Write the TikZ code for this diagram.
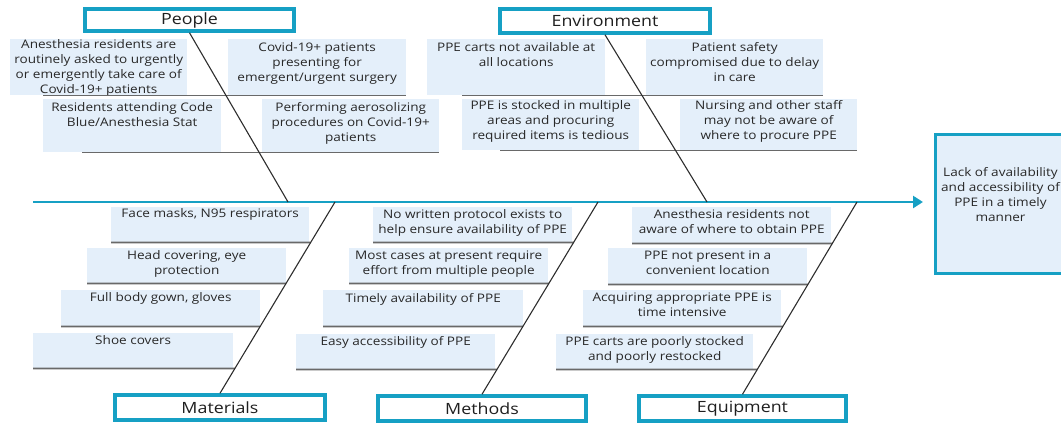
\documentclass[tikz,border=0pt]{standalone}
\usepackage{fontspec}
\setmainfont{Open Sans}[FakeStretch=1.15]
\usetikzlibrary{arrows.meta}
\definecolor{hdr}{RGB}{22,160,196}
\definecolor{cfill}{RGB}{228,239,250}
\definecolor{subln}{RGB}{105,105,105}
\definecolor{boneln}{RGB}{45,45,45}
\definecolor{txt}{RGB}{40,40,40}
\newcommand{\cb}[4][11]{\parbox[c][#3pt][t]{#2pt}{\centering\rule{0pt}{#1pt}#4}}
\tikzset{
  cause/.style={fill=cfill, inner sep=0pt, anchor=north west, text=txt,
    font=\fontsize{11.8}{15}\selectfont},
  hdrbox/.style={draw=hdr, line width=3.5pt, fill=white, inner sep=0pt,
    text=black!88, font=\fontsize{15.5}{18}\selectfont},
  effbox/.style={draw=hdr, line width=3pt, fill=cfill, inner sep=0pt, text=txt,
    font=\fontsize{11.8}{15}\selectfont},
  spine/.style={draw=hdr, line width=2.8pt, -{Triangle[length=10pt,width=12pt]}},
  bone/.style={draw=boneln, line width=1.1pt},
  sub/.style={draw=subln, line width=1.8pt},
}
\begin{document}
\begin{tikzpicture}[x=1pt,y=-1pt]
\useasboundingbox (0,0) rectangle (1061,423);
% spine coordinates
\coordinate (s0) at (33,202);
\coordinate (tip) at (923,202);
\coordinate (pS) at (288,202);
\coordinate (eS) at (707,202);
\coordinate (mS) at (335,202);
\coordinate (tS) at (598,202);
\coordinate (qS) at (857,202);
% cause boxes: People
\node[cause] (P1) at (10,39) {\cb[8.5]{177}{56}{Anesthesia residents are\\routinely asked to urgently\\or emergently take care of\\Covid-19+ patients}};
\node[cause] (P2) at (228,39) {\cb[12]{178}{56}{Covid-19+ patients\\presenting for\\emergent/urgent surgery}};
\node[cause] (P3) at (43,99) {\cb[12]{178}{53}{Residents attending Code\\Blue/Anesthesia Stat}};
\node[cause] (P4) at (262,99) {\cb[12]{177}{53}{Performing aerosolizing\\procedures on Covid-19+\\patients}};
% Environment
\node[cause] (E1) at (427,39) {\cb[12]{178}{56}{PPE carts not available at\\all locations}};
\node[cause] (E2) at (646,39) {\cb[12]{177}{56}{Patient safety\\compromised due to delay\\in care}};
\node[cause] (E3) at (462,99) {\cb[10]{177}{51}{PPE is stocked in multiple\\areas and procuring\\required items is tedious}};
\node[cause] (E4) at (680,99) {\cb[10]{177}{51}{Nursing and other staff\\may not be aware of\\where to procure PPE}};
% Materials
\node[cause] (M1) at (111,207) {\cb[10]{198}{35}{Face masks, N95 respirators}};
\node[cause] (M2) at (87,248) {\cb[11]{199}{35}{Head covering, eye\\protection}};
\node[cause] (M3) at (61,290) {\cb[11]{199}{36}{Full body gown, gloves}};
\node[cause] (M4) at (33,333) {\cb[11]{200}{35}{Shoe covers}};
% Methods
\node[cause] (T1) at (373,207) {\cb[11]{199}{35}{No written protocol exists to\\help ensure availability of PPE}};
\node[cause] (T2) at (349,248) {\cb[11]{199}{35}{Most cases at present require\\effort from multiple people}};
\node[cause] (T3) at (323,290) {\cb[12]{200}{36}{Timely availability of PPE}};
\node[cause] (T4) at (296,334) {\cb[11]{199}{35}{Easy accessibility of PPE}};
% Equipment
\node[cause] (Q1) at (632,207) {\cb[11]{199}{36}{Anesthesia residents not\\aware of where to obtain PPE}};
\node[cause] (Q2) at (608,248) {\cb[11]{199}{36}{PPE not present in a\\convenient location}};
\node[cause] (Q3) at (583,290) {\cb[11]{198}{36}{Acquiring appropriate PPE is\\time intensive}};
\node[cause] (Q4) at (556,334) {\cb[11]{197}{35}{PPE carts are poorly stocked\\and poorly restocked}};
% header boxes
\node[hdrbox, minimum width=209pt, minimum height=22pt] (people) at (189.5,20) {People};
\node[hdrbox, minimum width=210pt, minimum height=24pt] (env) at (605,21) {Environment};
\node[hdrbox, minimum width=210pt, minimum height=25pt] (materials) at (220,407.5) {Materials};
\node[hdrbox, minimum width=208pt, minimum height=25pt] (methods) at (482,408.5) {Methods};
\node[hdrbox, minimum width=207pt, minimum height=25pt] (equipment) at (742.5,408.5) {Equipment};
% effect box
\node[effbox, minimum width=131pt, minimum height=139pt] (effect) at (1000.5,204)
  {\parbox[c][139pt][t]{131pt}{\centering\rule{0pt}{41.5pt}Lack of availability\\and accessibility of\\PPE in a timely\\manner}};
% sub-bone lines, top sections
\draw[sub] (P3.west |- P2.south) -- (P2.south east);
\draw[sub] ([xshift=39pt]P3.south west) -- (P4.south east);
\draw[sub] (E3.west |- E2.south) -- (E2.south east);
\draw[sub] ([xshift=38pt]E3.south west) -- (E4.south east);
% sub-bone lines, bottom sections
\foreach \n in {M1,M2,M3,M4}
  \draw[sub] (\n.south west) -- (intersection of \n.south west--\n.south east and mS--materials.north);
\foreach \n in {T1,T2,T3,T4}
  \draw[sub] (\n.south west) -- (intersection of \n.south west--\n.south east and tS--methods.north);
\foreach \n in {Q1,Q2,Q3,Q4}
  \draw[sub] (\n.south west) -- (intersection of \n.south west--\n.south east and qS--equipment.north);
% spine
\draw[spine] (s0) -- (tip);
% bones
\draw[bone] (people.south) -- (pS);
\draw[bone] (env.south) -- (eS);
\draw[bone] (mS) -- (materials.north);
\draw[bone] (tS) -- (methods.north);
\draw[bone] (qS) -- (equipment.north);
\end{tikzpicture}
\end{document}
